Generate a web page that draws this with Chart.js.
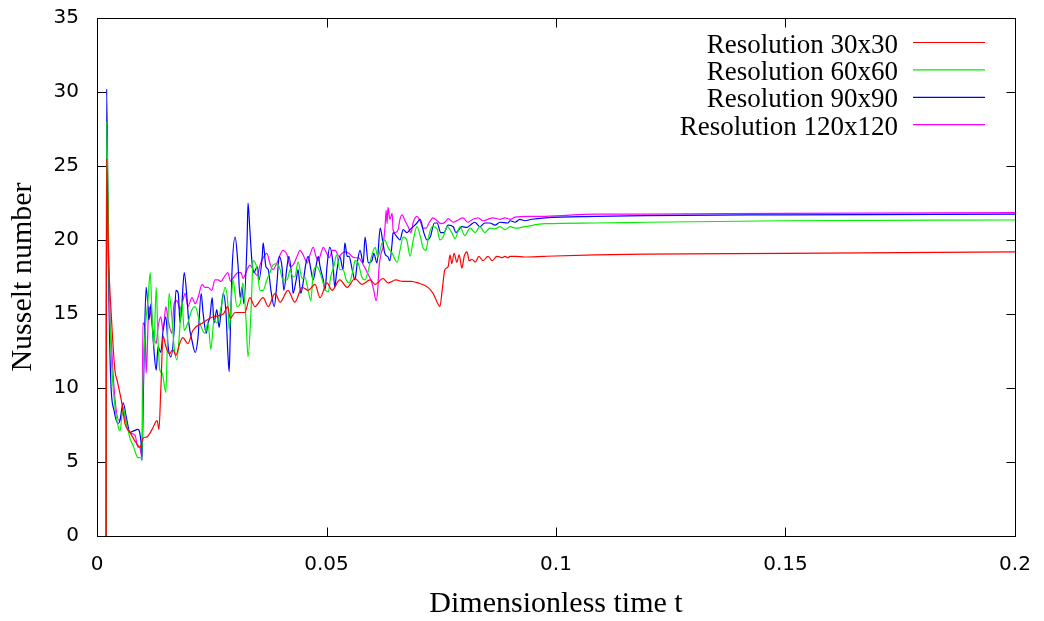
<!DOCTYPE html>
<html>
<head>
<meta charset="utf-8">
<script src="https://cdn.jsdelivr.net/npm/chart.js@4.4.1/dist/chart.umd.min.js"></script>
<style>
  html, body { margin: 0; padding: 0; background: #fff; }
  #wrap { width: 1044px; height: 621px; position: relative; }
</style>
</head>
<body>
<div id="wrap"><canvas id="nusseltChart"></canvas></div>
<script>
// [t, Nu] pairs
const res30 = [
  [0.0020, 0], [0.0021, 25.5], [0.0025, 19], [0.0031, 15], [0.0039, 11.2], [0.0044, 10.5],
  [0.0054, 9.0], [0.0061, 7.6], [0.0072, 7.0], [0.0085, 6.3], [0.0094, 6.0], [0.0100, 6.6],
  [0.0109, 6.7], [0.0120, 7.2], [0.0131, 7.8], [0.0135, 7.2], [0.0139, 9.9], [0.0144, 13.5],
  [0.0150, 12.8], [0.0158, 12.3], [0.0165, 12.6], [0.0172, 12.2], [0.0180, 13.0], [0.0187, 13.4],
  [0.0198, 13.0], [0.0209, 13.9], [0.0230, 14.4], [0.0252, 14.8], [0.0275, 15.0], [0.0285, 15.5],
  [0.0290, 14.7], [0.0301, 15.1], [0.0322, 15.1], [0.0333, 16.1], [0.0344, 15.5], [0.0362, 16.1],
  [0.0373, 15.5], [0.0388, 16.4], [0.0399, 15.8], [0.0416, 16.6], [0.0431, 15.8], [0.0447, 16.8],
  [0.0460, 16.6], [0.0475, 17.0], [0.0486, 16.1], [0.0501, 17.1], [0.0512, 16.6], [0.0529, 17.3],
  [0.0545, 16.8], [0.0562, 17.4], [0.0577, 17.0], [0.0595, 17.3], [0.0606, 17.0], [0.0623, 17.4],
  [0.0634, 17.1], [0.0651, 17.3], [0.0667, 17.2], [0.0684, 17.2], [0.0699, 17.1], [0.0721, 16.8],
  [0.0732, 16.4], [0.0741, 15.8], [0.0747, 15.5], [0.0752, 16.6], [0.0758, 18.0], [0.0765, 18.2],
  [0.0769, 19.0], [0.0773, 18.4], [0.0778, 19.1], [0.0784, 18.5], [0.0789, 19.0], [0.0795, 18.1],
  [0.0800, 18.9], [0.0806, 19.2], [0.0811, 18.6], [0.0817, 18.7], [0.0824, 18.5], [0.0832, 18.9],
  [0.0841, 18.6], [0.0852, 18.9], [0.0861, 18.6], [0.0871, 18.9], [0.0878, 18.85], [0.0882, 18.8],
  [0.0889, 18.9], [0.0895, 18.8], [0.0900, 18.9], [0.0911, 18.9], [0.0932, 18.85], [0.0976, 18.9],
  [0.1085, 19.0], [0.1194, 19.05], [0.1500, 19.1], [0.2000, 19.2]
];

const res60 = [
  [0.0020, 0], [0.0021, 28], [0.0027, 16], [0.0033, 11], [0.0040, 8.5], [0.0046, 7.4],
  [0.0050, 7.1], [0.0057, 8.7], [0.0063, 7.8], [0.0072, 6.6], [0.0080, 6.0], [0.0089, 5.3],
  [0.0098, 5.3], [0.0100, 9.9], [0.0105, 13.9], [0.0111, 15.9], [0.0116, 17.8], [0.0120, 14.8],
  [0.0124, 12.8], [0.0129, 16.8], [0.0133, 13.2], [0.0137, 11.2], [0.0142, 11.0], [0.0150, 9.7],
  [0.0153, 12.6], [0.0157, 16.4], [0.0163, 14.8], [0.0168, 12.8], [0.0174, 11.9], [0.0179, 13.4],
  [0.0185, 15.9], [0.0190, 13.9], [0.0198, 14.4], [0.0207, 15.3], [0.0214, 15.5], [0.0224, 14.4],
  [0.0235, 13.7], [0.0242, 14.4], [0.0248, 12.6], [0.0255, 14.6], [0.0261, 14.4], [0.0272, 15.7],
  [0.0279, 16.8], [0.0285, 15.7], [0.0288, 13.9], [0.0292, 15.5], [0.0296, 17.3], [0.0305, 15.5],
  [0.0312, 15.7], [0.0318, 17.1], [0.0325, 14.4], [0.0329, 12.1], [0.0336, 15.5], [0.0340, 18.6],
  [0.0349, 18.0], [0.0355, 16.6], [0.0362, 16.6], [0.0370, 17.3], [0.0377, 17.8], [0.0383, 18.3],
  [0.0392, 18.4], [0.0399, 18.0], [0.0405, 17.3], [0.0414, 17.3], [0.0421, 18.0], [0.0425, 17.6],
  [0.0431, 17.5], [0.0438, 18.5], [0.0447, 17.4], [0.0453, 17.5], [0.0460, 16.6], [0.0466, 15.9],
  [0.0471, 17.8], [0.0479, 18.2], [0.0486, 17.8], [0.0490, 17.4], [0.0498, 16.6], [0.0504, 16.5],
  [0.0509, 17.5], [0.0516, 18.2], [0.0522, 19.0], [0.0529, 18.0], [0.0536, 18.0], [0.0543, 17.3],
  [0.0549, 17.1], [0.0558, 18.0], [0.0562, 18.6], [0.0569, 18.45], [0.0577, 17.5], [0.0584, 17.3],
  [0.0590, 17.8], [0.0599, 19.0], [0.0606, 19.5], [0.0612, 18.85], [0.0621, 19.8], [0.0627, 20.0],
  [0.0634, 19.5], [0.0643, 19.1], [0.0654, 18.5], [0.0660, 19.3], [0.0667, 20.2], [0.0675, 20.0],
  [0.0682, 18.9], [0.0689, 20.0], [0.0697, 20.9], [0.0704, 20.3], [0.0710, 19.5], [0.0717, 19.3],
  [0.0721, 20.0], [0.0730, 20.9], [0.0741, 20.75], [0.0747, 20.0], [0.0754, 20.2], [0.0763, 20.9],
  [0.0773, 20.5], [0.0780, 20.1], [0.0791, 20.9], [0.0801, 20.3], [0.0813, 20.8], [0.0824, 20.5],
  [0.0834, 20.9], [0.0845, 20.5], [0.0856, 20.8], [0.0867, 20.75], [0.0878, 20.9], [0.0889, 20.7],
  [0.0900, 20.9], [0.0911, 20.8], [0.0932, 20.9], [0.0976, 21.1], [0.1085, 21.15], [0.1194, 21.2],
  [0.1500, 21.3], [0.2000, 21.35]
];

const res90 = [
  [0.0020, 0], [0.0021, 30.2], [0.0025, 18], [0.0030, 10.5], [0.0037, 8.5], [0.0046, 7.6],
  [0.0050, 7.8], [0.0057, 9.0], [0.0064, 8.0], [0.0072, 7.0], [0.0080, 7.1], [0.0089, 7.2],
  [0.0093, 7.0], [0.0096, 6.3], [0.0098, 5.1], [0.0102, 11.2], [0.0107, 16.8], [0.0111, 15.5],
  [0.0113, 14.6], [0.0118, 15.7], [0.0120, 14.4], [0.0124, 12.6], [0.0129, 11.2], [0.0133, 12.8],
  [0.0139, 12.4], [0.0144, 13.9], [0.0150, 14.8], [0.0155, 12.8], [0.0161, 12.1], [0.0168, 13.9],
  [0.0172, 16.6], [0.0177, 16.4], [0.0181, 14.4], [0.0185, 15.7], [0.0190, 17.8], [0.0196, 16.1],
  [0.0200, 14.4], [0.0207, 13.2], [0.0214, 12.4], [0.0220, 13.4], [0.0227, 16.4], [0.0231, 15.1],
  [0.0238, 13.7], [0.0242, 14.4], [0.0246, 14.8], [0.0251, 16.1], [0.0255, 14.4], [0.0261, 15.3],
  [0.0266, 14.1], [0.0270, 15.1], [0.0275, 16.4], [0.0281, 15.1], [0.0285, 12.4], [0.0288, 11.1],
  [0.0290, 13.2], [0.0294, 17.8], [0.0301, 20.2], [0.0307, 18.4], [0.0312, 16.1], [0.0316, 16.8],
  [0.0320, 15.7], [0.0327, 20.0], [0.0329, 22.5], [0.0333, 20.7], [0.0338, 18.4], [0.0342, 17.8],
  [0.0349, 18.2], [0.0353, 17.3], [0.0360, 18.9], [0.0362, 19.8], [0.0368, 18.2], [0.0373, 18.0],
  [0.0379, 16.6], [0.0386, 15.5], [0.0392, 17.1], [0.0397, 18.9], [0.0403, 18.2], [0.0407, 16.6],
  [0.0414, 18.2], [0.0418, 18.9], [0.0425, 17.3], [0.0427, 16.4], [0.0434, 17.3], [0.0438, 18.0],
  [0.0444, 16.4], [0.0449, 17.1], [0.0455, 18.4], [0.0460, 18.9], [0.0466, 18.0], [0.0471, 17.3],
  [0.0477, 18.2], [0.0482, 18.9], [0.0486, 18.2], [0.0493, 17.3], [0.0497, 16.6], [0.0501, 18.2],
  [0.0507, 19.5], [0.0514, 18.45], [0.0518, 16.8], [0.0522, 17.8], [0.0529, 18.9], [0.0536, 18.0],
  [0.0540, 19.8], [0.0545, 18.9], [0.0549, 18.9], [0.0556, 18.0], [0.0562, 17.3], [0.0567, 18.45],
  [0.0573, 19.3], [0.0580, 18.45], [0.0584, 20.2], [0.0591, 18.45], [0.0599, 18.6], [0.0603, 19.1],
  [0.0610, 18.45], [0.0617, 20.8], [0.0623, 19.8], [0.0627, 19.1], [0.0634, 18.85], [0.0638, 18.6],
  [0.0643, 19.8], [0.0645, 20.5], [0.0654, 20.2], [0.0660, 20.0], [0.0667, 20.7], [0.0675, 20.5],
  [0.0682, 20.7], [0.0689, 20.9], [0.0697, 21.15], [0.0704, 21.4], [0.0712, 20.5], [0.0719, 20.0],
  [0.0726, 20.2], [0.0735, 21.15], [0.0741, 21.15], [0.0749, 20.5], [0.0756, 20.5], [0.0765, 21.0],
  [0.0776, 20.9], [0.0782, 20.5], [0.0795, 20.9], [0.0806, 20.85], [0.0813, 21.0], [0.0823, 21.2],
  [0.0834, 20.9], [0.0845, 21.15], [0.0856, 21.15], [0.0867, 21.0], [0.0878, 21.2], [0.0895, 21.15],
  [0.0900, 21.3], [0.0911, 21.2], [0.0921, 21.4], [0.0932, 21.3], [0.0947, 21.4], [0.0976, 21.5],
  [0.1085, 21.6], [0.1194, 21.65], [0.1500, 21.7], [0.2000, 21.75]
];

const res120 = [
  [0.0020, 0], [0.0021, 26.2], [0.0026, 17], [0.0033, 12.1], [0.0040, 9.0], [0.0048, 7.8],
  [0.0057, 8.3], [0.0065, 7.5], [0.0070, 7.0], [0.0083, 6.8], [0.0089, 6.0], [0.0093, 6.0],
  [0.0098, 5.3], [0.0100, 14.4], [0.0105, 13.9], [0.0107, 11.0], [0.0109, 12.1], [0.0113, 15.5],
  [0.0118, 14.8], [0.0122, 13.9], [0.0129, 13.0], [0.0133, 14.1], [0.0139, 14.8], [0.0144, 13.9],
  [0.0150, 15.5], [0.0155, 14.6], [0.0163, 13.7], [0.0168, 15.7], [0.0174, 15.9], [0.0181, 15.3],
  [0.0187, 15.9], [0.0192, 16.4], [0.0198, 15.5], [0.0207, 16.1], [0.0214, 15.7], [0.0220, 16.1],
  [0.0229, 17.0], [0.0235, 16.8], [0.0242, 16.8], [0.0250, 16.6], [0.0257, 17.3], [0.0264, 17.3],
  [0.0270, 17.2], [0.0277, 17.5], [0.0285, 17.8], [0.0291, 17.2], [0.0298, 17.5], [0.0307, 17.8],
  [0.0314, 17.8], [0.0318, 17.4], [0.0327, 18.0], [0.0333, 18.3], [0.0340, 18.0], [0.0349, 17.6],
  [0.0355, 18.3], [0.0362, 18.8], [0.0370, 19.1], [0.0377, 18.4], [0.0383, 18.0], [0.0392, 18.45],
  [0.0399, 19.0], [0.0405, 19.3], [0.0414, 19.0], [0.0421, 18.2], [0.0427, 18.3], [0.0436, 18.9],
  [0.0442, 19.3], [0.0449, 19.0], [0.0458, 18.45], [0.0464, 19.0], [0.0471, 19.5], [0.0477, 18.9],
  [0.0482, 18.6], [0.0488, 19.1], [0.0493, 19.5], [0.0499, 19.2], [0.0506, 18.8], [0.0513, 19.3],
  [0.0519, 19.3], [0.0527, 18.9], [0.0534, 19.1], [0.0540, 19.2], [0.0549, 19.1], [0.0555, 18.9],
  [0.0562, 18.8], [0.0570, 18.8], [0.0577, 18.5], [0.0584, 18.1], [0.0592, 17.6], [0.0598, 17.2],
  [0.0603, 16.6], [0.0608, 15.9], [0.0612, 16.8], [0.0614, 18.0], [0.0619, 19.1], [0.0623, 19.5],
  [0.0628, 21.1], [0.0630, 22.0], [0.0632, 21.1], [0.0634, 22.2], [0.0638, 21.4], [0.0643, 21.8],
  [0.0645, 20.7], [0.0649, 20.5], [0.0656, 20.7], [0.0660, 21.4], [0.0665, 21.7], [0.0671, 21.3],
  [0.0678, 20.9], [0.0684, 20.5], [0.0689, 21.2], [0.0697, 21.6], [0.0704, 21.3], [0.0710, 20.8],
  [0.0717, 20.8], [0.0724, 21.2], [0.0732, 21.5], [0.0741, 21.3], [0.0750, 21.1], [0.0758, 21.2],
  [0.0765, 21.45], [0.0776, 21.2], [0.0787, 21.35], [0.0797, 21.5], [0.0808, 21.2], [0.0819, 21.4],
  [0.0830, 21.5], [0.0841, 21.3], [0.0852, 21.4], [0.0862, 21.5], [0.0878, 21.4], [0.0889, 21.5],
  [0.0900, 21.4], [0.0911, 21.55], [0.0939, 21.6], [0.0976, 21.6], [0.1085, 21.75], [0.1194, 21.75],
  [0.1500, 21.8], [0.2000, 21.85]
];

const seriesLabels = ["Resolution 30x30", "Resolution 60x60", "Resolution 90x90", "Resolution 120x120"];
const seriesColors = ["#ff0000", "#00ee00", "#0000ff", "#ff00ff"];
const seriesData = [res30, res60, res90, res120];

const xTicks = [0, 0.05, 0.1, 0.15, 0.2];
const yTicks = [0, 5, 10, 15, 20, 25, 30, 35];

// gnuplot style box with inward ticks on all four sides
const framePlugin = {
    id: "frame",
    beforeDatasetsDraw(chart) {
        const { ctx, chartArea: a, scales: { x, y } } = chart;
        const L = Math.round(a.left) + 0.5, R = Math.round(a.right) + 0.5;
        const T = Math.round(a.top) + 0.5, B = Math.round(a.bottom) + 0.5;
        const len = 9;
        ctx.save();
        ctx.strokeStyle = "#000";
        ctx.lineWidth = 1;
        ctx.strokeRect(L, T, R - L, B - T);
        ctx.beginPath();
        xTicks.forEach(v => {
            const px = Math.round(x.getPixelForValue(v)) + 0.5;
            ctx.moveTo(px, B); ctx.lineTo(px, B - len);
            ctx.moveTo(px, T); ctx.lineTo(px, T + len);
        });
        yTicks.forEach(v => {
            const py = Math.round(y.getPixelForValue(v)) + 0.5;
            ctx.moveTo(L, py); ctx.lineTo(L + len, py);
            ctx.moveTo(R, py); ctx.lineTo(R - len, py);
        });
        ctx.stroke();
        ctx.restore();
    }
};

// key in the top right corner: text right aligned, sample line after it
const keyPlugin = {
    id: "key",
    afterDraw(chart) {
        const { ctx } = chart;
        ctx.save();
        ctx.font = '27px "Liberation Serif", "Times New Roman", serif';
        ctx.textAlign = "right";
        ctx.textBaseline = "alphabetic";
        chart.data.datasets.forEach((ds, i) => {
            const rowY = 42.5 + i * 27.4;
            ctx.fillStyle = "#000";
            ctx.fillText(ds.label, 898, rowY + 10);
            ctx.strokeStyle = ds.borderColor;
            ctx.lineWidth = 1.2;
            ctx.beginPath();
            ctx.moveTo(913, rowY);
            ctx.lineTo(985, rowY);
            ctx.stroke();
        });
        ctx.restore();
    }
};

const ctx = document.getElementById("nusseltChart").getContext("2d");
new Chart(ctx, {
    type: "line",
    data: {
        datasets: seriesData.map((pts, i) => ({
            label: seriesLabels[i],
            data: pts.map(([t, nu]) => ({ x: t, y: nu })),
            borderColor: seriesColors[i],
            borderWidth: 1.2,
            pointRadius: 0,
            fill: false,
            cubicInterpolationMode: "monotone"
        }))
    },
    options: {
        animation: false,
        responsive: true,
        maintainAspectRatio: false,
        layout: { padding: { top: 18, right: 29, left: 0, bottom: 0 } },
        plugins: {
            legend: { display: false },
            tooltip: { enabled: false }
        },
        scales: {
            x: {
                type: "linear",
                min: 0,
                max: 0.2,
                afterFit: s => {
                    s.height = 85;
                    s.paddingLeft = 0; s.paddingRight = 0;
                    s.paddingTop = 0; s.paddingBottom = 0;
                },
                afterBuildTicks: s => { s.ticks = xTicks.map(v => ({ value: v })); },
                grid: { display: false, drawTicks: false },
                border: { display: false },
                ticks: {
                    padding: 17,
                    color: "#000",
                    font: { family: '"DejaVu Sans", sans-serif', size: 20 },
                    callback: v => String(Number(v.toFixed(3)))
                },
                title: {
                    display: true,
                    text: "Dimensionless time t",
                    color: "#000",
                    font: { family: '"Liberation Serif", "Times New Roman", serif', size: 30, lineHeight: 1.0 },
                    padding: { top: 0, bottom: 2 }
                }
            },
            y: {
                min: 0,
                max: 35,
                afterFit: s => {
                    s.width = 97;
                    s.paddingLeft = 0; s.paddingRight = 0;
                    s.paddingTop = 0; s.paddingBottom = 0;
                },
                afterBuildTicks: s => { s.ticks = yTicks.map(v => ({ value: v })); },
                grid: { display: false, drawTicks: false },
                border: { display: false },
                ticks: {
                    padding: 18,
                    color: "#000",
                    font: { family: '"DejaVu Sans", sans-serif', size: 20 }
                },
                title: {
                    display: true,
                    text: "Nusselt number",
                    color: "#000",
                    font: { family: '"Liberation Serif", "Times New Roman", serif', size: 30 },
                    padding: { top: 5, bottom: 0 }
                }
            }
        }
    },
    plugins: [framePlugin, keyPlugin]
});
</script>
</body>
</html>
